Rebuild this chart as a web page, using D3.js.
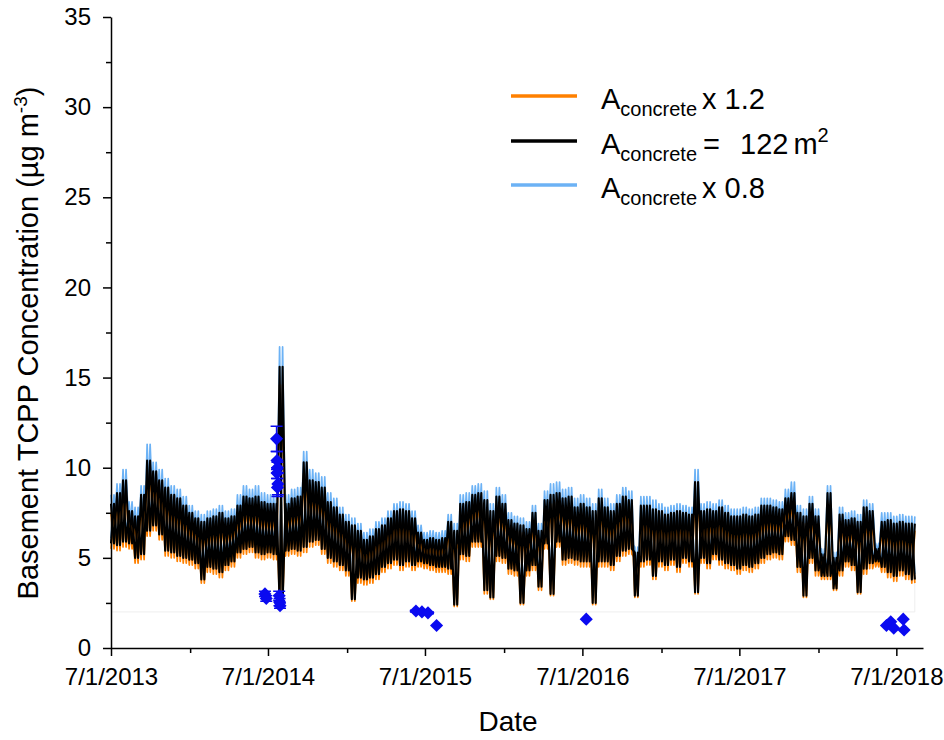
<!DOCTYPE html>
<html>
<head>
<meta charset="utf-8">
<script src="https://cdn.jsdelivr.net/npm/d3@7"></script>
<style>
  html, body { margin: 0; padding: 0; background: #fff; }
  svg { display: block; font-family: "Liberation Sans", Arial, sans-serif; }
</style>
</head>
<body>
<svg id="chart" width="944" height="740"></svg>
<script>
// Modelled basement TCPP concentration, sampled in 14-day bins from 7/1/2013.
// Each bin holds the high and low of the fluctuating series in that bin.
const binStart = "2013-07-01";
const binDays = 14;

// A_concrete = 122 m2 (reference case)
const baseHi = [
  8.0,8.6,9.3,7.6,7.3,8.5,10.4,9.8,9.3,8.9,
  8.5,8.3,7.9,7.5,7.2,7.0,7.2,7.3,7.5,7.2,
  7.3,7.9,8.4,8.3,8.4,8.1,8.0,8.0,15.6,8.0,
  8.3,8.4,10.3,9.3,9.2,8.9,8.1,7.8,7.4,7.0,
  6.8,6.5,6.0,6.2,6.6,6.8,7.2,7.6,7.7,7.6,
  7.2,6.4,6.0,6.1,6.0,6.1,7.0,6.5,8.0,8.1,
  8.5,8.6,8.2,7.6,8.4,8.0,7.1,6.9,6.8,6.6,
  7.5,6.5,8.2,8.5,8.6,8.3,8.4,7.8,8.0,7.8,
  7.6,8.3,7.8,7.6,8.0,8.4,8.2,5.3,7.9,7.9,
  7.7,7.6,7.4,7.5,7.6,7.5,7.4,9.2,7.6,7.7,
  7.6,7.8,7.5,7.3,7.3,7.4,7.3,7.4,7.9,7.9,
  7.8,7.7,8.3,8.6,7.5,7.3,8.0,7.3,5.2,8.6,
  5.0,7.4,7.1,7.2,7.0,7.8,7.6,5.5,7.0,7.1,
  6.9,7.0,6.9,6.9
];
const baseLo = [
  5.8,5.7,5.9,5.8,5.0,5.2,6.5,6.8,6.3,5.4,
  5.3,5.1,5.0,4.9,4.7,3.8,4.5,4.4,4.2,4.6,
  4.8,5.3,5.5,5.6,5.3,5.2,5.3,5.2,2.5,5.4,
  5.5,5.4,5.6,5.9,6.0,5.5,5.0,4.8,4.6,4.3,
  2.7,3.9,3.8,3.9,4.1,4.5,4.7,4.9,4.6,4.8,
  4.6,4.8,4.7,4.6,4.5,4.5,4.4,2.4,5.2,5.1,
  5.9,5.9,3.2,2.8,5.1,5.0,4.4,4.3,2.5,4.3,
  4.6,3.4,5.8,3.0,5.9,4.9,5.0,4.9,4.8,4.8,
  2.5,4.8,4.8,4.6,5.1,5.4,5.5,2.9,4.8,4.9,
  4.0,4.8,4.6,4.9,4.5,5.0,4.8,3.1,5.0,4.7,
  5.2,4.9,4.7,4.6,4.4,4.6,4.5,4.7,5.0,5.2,
  5.3,5.2,6.2,6.0,4.5,2.9,5.0,4.3,4.0,4.0,
  3.3,4.3,4.8,4.6,3.1,4.4,4.7,4.8,4.5,4.2,
  4.0,4.3,4.1,3.8
];

// A_concrete x 0.8
const lowAreaHi = [
  8.5,9.1,9.9,8.1,7.8,9.0,11.3,10.3,9.9,9.4,
  9.0,8.8,8.4,7.9,7.6,7.4,7.6,7.7,7.9,7.6,
  7.7,8.5,9.0,8.8,9.0,8.6,8.5,8.5,16.7,8.5,
  8.8,8.9,10.9,9.9,9.7,9.5,8.6,8.3,7.8,7.4,
  7.2,6.9,6.4,6.6,7.0,7.2,7.6,8.0,8.1,8.0,
  7.6,6.8,6.4,6.5,6.4,6.5,7.4,6.9,8.5,8.6,
  9.0,9.1,8.7,8.0,8.9,8.5,7.5,7.3,7.2,7.0,
  7.9,6.9,8.7,9.1,9.2,8.8,8.9,8.3,8.5,8.3,
  8.0,8.8,8.3,8.0,8.5,8.9,8.7,5.6,8.4,8.4,
  8.2,8.0,7.8,7.9,8.0,7.9,7.8,9.9,8.0,8.1,
  8.0,8.2,7.9,7.7,7.7,7.8,7.7,7.8,8.3,8.3,
  8.2,8.1,8.8,9.2,7.9,7.7,8.4,7.7,5.5,9.0,
  5.3,7.8,7.5,7.6,7.4,8.2,8.0,5.8,7.5,7.5,
  7.3,7.4,7.3,7.3
];
const lowAreaLo = [
  6.1,6.0,6.2,6.1,5.3,5.5,6.8,7.1,6.6,5.7,
  5.6,5.4,5.3,5.2,5.0,4.1,4.8,4.7,4.5,4.9,
  5.1,5.6,5.8,5.9,5.6,5.5,5.6,5.5,2.8,5.7,
  5.8,5.7,5.9,6.2,6.3,5.8,5.3,5.1,4.9,4.6,
  3.0,4.2,4.1,4.2,4.4,4.8,5.0,5.2,4.9,5.1,
  4.9,5.1,5.0,4.9,4.8,4.8,4.7,2.7,5.5,5.4,
  6.2,6.2,3.5,3.1,5.4,5.3,4.7,4.6,2.8,4.6,
  4.9,3.7,6.1,3.3,6.2,5.2,5.3,5.2,5.1,5.1,
  2.8,5.1,5.1,4.9,5.4,5.7,5.8,3.2,5.1,5.2,
  4.3,5.1,4.9,5.2,4.8,5.3,5.1,3.4,5.3,5.0,
  5.5,5.2,5.0,4.9,4.7,4.9,4.8,5.0,5.3,5.5,
  5.6,5.5,6.5,6.3,4.8,3.2,5.3,4.6,4.3,4.3,
  3.6,4.6,5.1,4.9,3.4,4.7,5.0,5.1,4.8,4.5,
  4.3,4.6,4.4,4.1
];

// A_concrete x 1.2
const highAreaHi = [
  7.5,8.1,8.8,7.1,6.8,8.0,9.8,9.3,8.8,8.4,
  8.0,7.8,7.4,7.0,6.8,6.6,6.8,6.9,7.0,6.8,
  6.9,7.4,7.9,7.8,7.9,7.6,7.5,7.5,14.6,7.5,
  7.8,7.9,9.7,8.8,8.7,8.4,7.6,7.3,7.0,6.6,
  6.4,6.1,5.6,5.8,6.2,6.4,6.8,7.1,7.2,7.1,
  6.8,6.0,5.6,5.7,5.6,5.7,6.6,6.1,7.5,7.6,
  8.0,8.1,7.7,7.1,7.9,7.5,6.7,6.5,6.4,6.2,
  7.0,6.1,7.7,8.0,8.1,7.8,7.9,7.3,7.5,7.3,
  7.1,7.8,7.3,7.1,7.5,7.9,7.7,5.0,7.4,7.4,
  7.2,7.1,7.0,7.0,7.1,7.0,7.0,8.6,7.1,7.2,
  7.1,7.3,7.0,6.9,6.9,7.0,6.9,7.0,7.4,7.4,
  7.3,7.2,7.8,8.1,7.0,6.9,7.5,6.9,4.9,8.0,
  4.7,7.0,6.7,6.8,6.6,7.3,7.1,5.2,6.6,6.7,
  6.5,6.6,6.5,6.5
];
const highAreaLo = [
  5.5,5.4,5.6,5.5,4.7,4.9,6.2,6.5,6.0,5.1,
  5.0,4.8,4.7,4.6,4.4,3.6,4.2,4.1,3.9,4.3,
  4.5,5.0,5.2,5.3,5.0,4.9,5.0,4.9,2.4,5.1,
  5.2,5.1,5.3,5.6,5.7,5.2,4.7,4.5,4.3,4.0,
  2.6,3.6,3.5,3.6,3.8,4.2,4.4,4.6,4.3,4.5,
  4.3,4.5,4.4,4.3,4.2,4.2,4.1,2.3,4.9,4.8,
  5.6,5.6,3.0,2.7,4.8,4.7,4.1,4.0,2.4,4.0,
  4.3,3.2,5.5,2.9,5.6,4.6,4.7,4.6,4.5,4.5,
  2.4,4.5,4.5,4.3,4.8,5.1,5.2,2.8,4.5,4.6,
  3.8,4.5,4.3,4.6,4.2,4.7,4.5,3.0,4.7,4.4,
  4.9,4.6,4.4,4.3,4.1,4.3,4.2,4.4,4.7,4.9,
  5.0,4.9,5.9,5.7,4.2,2.8,4.7,4.0,3.8,3.8,
  3.2,4.0,4.5,4.3,3.0,4.1,4.4,4.5,4.2,3.9,
  3.7,4.0,3.8,3.6
];

// Measured basement concentrations with their uncertainty
const obsDates = [
  "2014-06-24","2014-06-27",
  "2014-07-21","2014-07-22","2014-07-23","2014-07-22","2014-07-24","2014-07-23",
  "2014-07-27","2014-07-28","2014-07-29",
  "2015-06-10","2015-06-24","2015-07-08","2015-07-28",
  "2016-07-10",
  "2018-06-08","2018-06-18","2018-06-25","2018-07-17","2018-07-19"
];
const obsValues = [
  3.0,2.75,
  11.6,10.4,10.0,9.7,9.1,8.9,
  2.9,2.55,2.35,
  2.05,2.0,1.95,1.25,
  1.6,
  1.25,1.45,1.1,1.6,1.0
];
const obsErrors = [
  0.15,0.15,
  0.7,0.5,0.3,0.3,0.6,0.5,
  0.25,0.2,0.15,
  0.05,0.05,0.05,0.0,
  0.0,
  0.0,0.0,0.0,0.0,0.0
];

// Axis ticks
const xTickLabels = ["7/1/2013","7/1/2014","7/1/2015","7/1/2016","7/1/2017","7/1/2018"];
const xMinorTicks = ["1/1/2014","1/1/2015","1/1/2016","1/1/2017","1/1/2018"];
const yTicks = [0,5,10,15,20,25,30,35];
const yMinorTicks = [2.5,7.5,12.5,17.5,22.5,27.5,32.5];
const xDomain = ["7/1/2013","9/1/2018"];

// Legend entries
const legendItems = [
  { color: "#FF8000", suffix: "x 1.2" },
  { color: "#000000", suffix: null },
  { color: "#6CB2F5", suffix: "x 0.8" }
];

const svg = d3.select("#chart");
const margin = { left: 111, right: 21, top: 17, bottom: 92 };
const W = 944, H = 740;

const parseMDY = d3.timeParse("%m/%d/%Y");
const parseISO = d3.timeParse("%Y-%m-%d");

const x = d3.scaleTime()
  .domain(xDomain.map(parseMDY))
  .range([margin.left, W - margin.right]);
const y = d3.scaleLinear()
  .domain([0, 35])
  .range([H - margin.bottom, margin.top]);

const t0 = parseISO(binStart);
const binDate = i => d3.timeDay.offset(t0, i * binDays);
const halfDate = i => d3.timeHour.offset(binDate(i), binDays * 12);

// Within each bin the series swings between the bin high and bin low;
// the swing is traced in both orders so the band reads as dense.
function swing(hi, lo, highFirst) {
  const pts = [];
  hi.forEach((h, i) => {
    const a = highFirst ? h : lo[i];
    const b = highFirst ? lo[i] : h;
    pts.push([binDate(i), a]);
    pts.push([halfDate(i), b]);
  });
  return pts;
}

const line = d3.line().x(d => x(d[0])).y(d => y(d[1]));

// faint frame along the lower edge of the modelled series
const lastDate = halfDate(baseHi.length - 1);
svg.append("path")
  .attr("d", `M${x(t0)},${y(2)}H${x(lastDate)}V${y(3.8)}`)
  .attr("fill", "none")
  .attr("stroke", "#eeeeee")
  .attr("stroke-width", 1);

const seriesDefs = [
  { hi: lowAreaHi, lo: lowAreaLo, color: "#6CB2F5", width: 1.7 },
  { hi: highAreaHi, lo: highAreaLo, color: "#FF8000", width: 1.7 },
  { hi: baseHi, lo: baseLo, color: "#000000", width: 2.1 }
];
const traces = seriesDefs.flatMap(s => [
  { data: swing(s.hi, s.lo, true), color: s.color, width: s.width },
  { data: swing(s.hi, s.lo, false), color: s.color, width: s.width }
]);

svg.append("g").selectAll("path")
  .data(traces)
  .join("path")
  .attr("d", d => line(d.data))
  .attr("fill", "none")
  .attr("stroke", d => d.color)
  .attr("stroke-width", d => d.width)
  .attr("stroke-linejoin", "round");

// Observations: error bars then diamonds
const obs = obsDates.map((d, i) => ({ t: parseISO(d), v: obsValues[i], e: obsErrors[i] }));
const obsColor = "#0A0AF0";
const eb = svg.append("g").attr("stroke", obsColor).attr("stroke-width", 1.5).attr("fill", "none");
obs.filter(d => d.e > 0).forEach(d => {
  const cx = x(d.t), y1 = y(d.v + d.e), y2 = y(d.v - d.e);
  eb.append("path").attr("d", `M${cx},${y1}V${y2}M${cx - 6},${y1}H${cx + 6}M${cx - 6},${y2}H${cx + 6}`);
});
svg.append("g").selectAll("path")
  .data(obs)
  .join("path")
  .attr("d", d3.symbol(d3.symbolDiamond2, 110))
  .attr("transform", d => `translate(${x(d.t)},${y(d.v)})`)
  .attr("fill", obsColor);

// Axes
const axisG = svg.append("g");

const xAxis = d3.axisBottom(x)
  .tickValues(xTickLabels.map(parseMDY))
  .tickFormat((d, i) => xTickLabels[i])
  .tickSizeInner(8).tickSizeOuter(0).tickPadding(12);
const gx = axisG.append("g")
  .attr("transform", `translate(0,${y(0)})`)
  .call(xAxis);
gx.select(".domain").attr("stroke-width", 1.5);
gx.selectAll(".tick line").attr("stroke-width", 1.5);
gx.selectAll(".tick text")
  .attr("font-family", "'Liberation Sans', Arial, sans-serif")
  .attr("font-size", 24).attr("fill", "#000");

const gxm = axisG.append("g")
  .attr("transform", `translate(0,${y(0)})`)
  .call(d3.axisBottom(x).tickValues(xMinorTicks.map(parseMDY)).tickFormat("").tickSizeInner(5).tickSizeOuter(0));
gxm.select(".domain").remove();
gxm.selectAll(".tick line").attr("stroke-width", 1.5);

const yAxis = d3.axisLeft(y)
  .tickValues(yTicks)
  .tickFormat(d3.format("d"))
  .tickSizeInner(8).tickSizeOuter(0).tickPadding(12);
const gy = axisG.append("g")
  .attr("transform", `translate(${x.range()[0]},0)`)
  .call(yAxis);
gy.select(".domain").attr("stroke-width", 1.5);
gy.selectAll(".tick line").attr("stroke-width", 1.5);
gy.selectAll(".tick text")
  .attr("font-family", "'Liberation Sans', Arial, sans-serif")
  .attr("font-size", 24).attr("fill", "#000");

const gym = axisG.append("g")
  .attr("transform", `translate(${x.range()[0]},0)`)
  .call(d3.axisLeft(y).tickValues(yMinorTicks).tickFormat("").tickSizeInner(5).tickSizeOuter(0));
gym.select(".domain").remove();
gym.selectAll(".tick line").attr("stroke-width", 1.5);

// Axis titles
svg.append("text")
  .attr("x", 508)
  .attr("y", 731)
  .attr("text-anchor", "middle")
  .attr("font-size", 28)
  .text("Date");

const yTitle = svg.append("text")
  .attr("transform", `translate(38,343) rotate(-90)`)
  .attr("text-anchor", "middle")
  .attr("font-size", 29);
yTitle.append("tspan").text("Basement TCPP Concentration (\u00b5g m");
yTitle.append("tspan").attr("font-size", 19).attr("dy", -11).text("-3");
yTitle.append("tspan").attr("dy", 11).text(")");

// Legend
const lg = svg.append("g");
const rowY = [96, 141, 185];
legendItems.forEach((it, i) => {
  const by = rowY[i];
  lg.append("line")
    .attr("x1", 511).attr("x2", 577)
    .attr("y1", by).attr("y2", by)
    .attr("stroke", it.color).attr("stroke-width", 3.5);
  const t = lg.append("text")
    .attr("x", 601).attr("y", by + 13)
    .attr("font-size", 29);
  t.append("tspan").text("A");
  t.append("tspan").attr("font-size", 20).attr("dy", 7).text("concrete");
  if (it.suffix === null) {
    t.append("tspan").attr("dy", -7).attr("dx", 6).text("=");
    t.append("tspan").attr("dx", 20).text("122");
    t.append("tspan").attr("dx", 5).text("m");
    t.append("tspan").attr("font-size", 20).attr("dy", -12).text("2");
  } else {
    t.append("tspan").attr("dy", -7).attr("dx", 5).text(it.suffix);
  }
});
</script>
</body>
</html>
